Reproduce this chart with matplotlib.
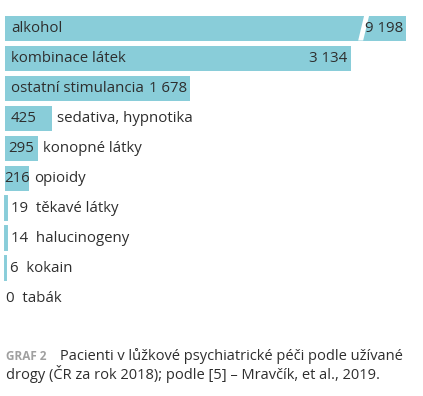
import matplotlib.pyplot as plt
from matplotlib.patches import Polygon

plt.rcParams['font.family'] = ['Open Sans', 'DejaVu Sans']

drogy = ['alkohol', 'kombinace látek', 'ostatní stimulancia', 'sedativa, hypnotika',
         'konopné látky', 'opioidy', 'těkavé látky', 'halucinogeny', 'kokain', 'tabák']
pacienti = [9198, 3134, 1678, 425, 295, 216, 19, 14, 6, 0]

# alkohol is shown truncated with a break
zlom_od = 3220
zlom_do = 3640

barva = '#89cdd9'
text_barva = '#2e2e2e'
fs = 10.8

def fmt(v):
    return f'{v:,}'.replace(',', ' ')

W, H = 423, 396
fig = plt.figure(figsize=(W / 100, H / 100), dpi=100)
ax = fig.add_axes([0, 0, 1, 1])
px = 0.1103  # pixels per patient
x0 = 5
ax.set_xlim(-x0 / px, (W - x0) / px)
ax.set_ylim((H - 28) / 30, -28 / 30)
ax.axis('off')

u = 1 / px  # one pixel in data units
h = 25 / 30

for i, (d, v) in enumerate(zip(drogy, pacienti)):
    w = min(v, zlom_do)
    if v > 0:
        if v < 100:
            # thin bars get a stroke so they stay visible
            ax.barh(i, w, height=h - 0.04, color=barva, edgecolor=barva, linewidth=1.4)
        else:
            ax.barh(i, w, height=h, color=barva, linewidth=0)
    if v > zlom_do:
        # white slanted gap
        gap = Polygon([(zlom_od - 2 * u, i + h / 2), (zlom_od + 3 * u, i + h / 2),
                       (zlom_od + 9 * u, i - h / 2), (zlom_od + 4 * u, i - h / 2)],
                      closed=True, color='white', linewidth=0, zorder=3)
        ax.add_patch(gap)
    if v > 1000:
        ax.text(6 * u, i, d, va='center', ha='left', fontsize=fs, color=text_barva, zorder=4)
        ax.text(w - 3 * u, i, fmt(v), va='center', ha='right', fontsize=fs, color=text_barva, zorder=4)
    elif v > 100:
        if v > 400:
            ax.text(6 * u, i, fmt(v), va='center', ha='left', fontsize=fs, color=text_barva)
        else:
            ax.text(w / 2, i, fmt(v), va='center', ha='center', fontsize=fs, color=text_barva)
        ax.text(w + 5 * u, i, d, va='center', ha='left', fontsize=fs, color=text_barva)
    else:
        ax.text(w + 4 * u if v > 0 else 1 * u, i, f'{fmt(v)}  {d}', va='center', ha='left',
                fontsize=fs, color=text_barva)

fig.text(6 / W, 1 - 357 / H, 'GRAF 2', fontsize=8.5, fontweight='bold', color='#a0a0a0',
         va='center', ha='left')
fig.text(60 / W, 1 - 356 / H, 'Pacienti v lůžkové psychiatrické péči podle užívané',
         fontsize=10.5, color=text_barva, va='center', ha='left')
fig.text(6 / W, 1 - 374 / H, 'drogy (ČR za rok 2018); podle [5] – Mravčík, et al., 2019.',
         fontsize=10.5, color=text_barva, va='center', ha='left')

fig.savefig('out.png', dpi=100)
